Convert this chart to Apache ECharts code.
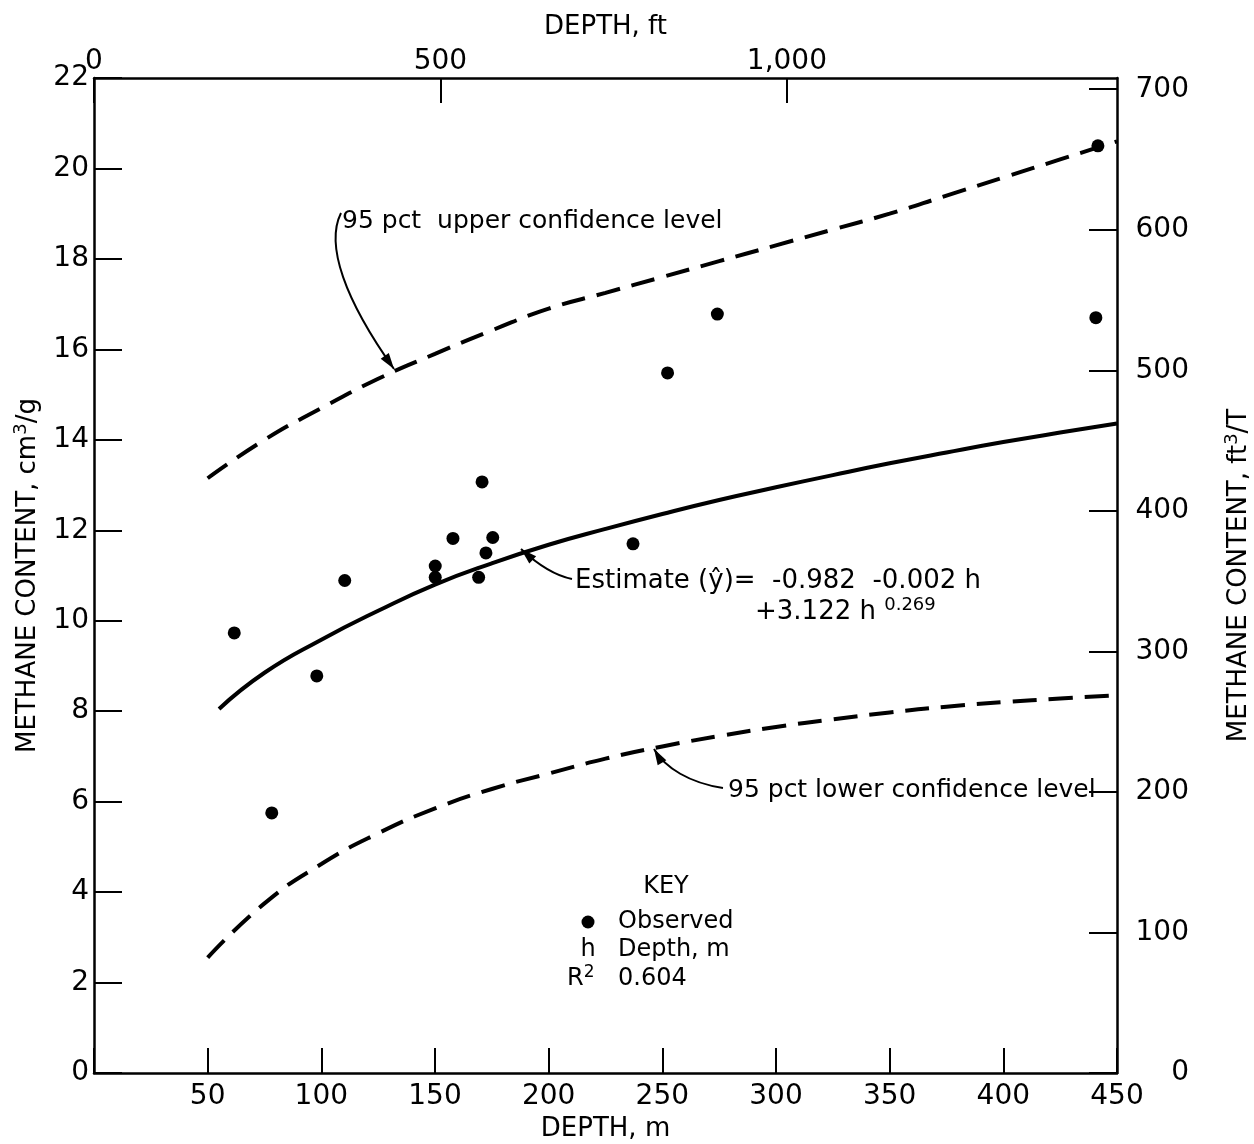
<!DOCTYPE html>
<html>
<head>
<meta charset="utf-8">
<script src="https://cdn.jsdelivr.net/npm/echarts@6.0.0/dist/echarts.min.js"></script>
<style>
  html, body { margin: 0; padding: 0; background: #fff; }
  #chart { width: 1254px; height: 1144px; }
</style>
</head>
<body>
<div id="chart"></div>
<script>
// observed samples (depth m, methane cm3/g)
const obsDepth = [61.7, 78.2, 98.0, 110.3, 150.1, 150.1, 157.9, 170.7, 169.2, 172.4, 175.4, 237.1, 252.3, 274.2, 440.7, 441.6];
const obsMethane = [9.73, 5.75, 8.78, 10.89, 11.21, 10.96, 11.82, 13.07, 10.96, 11.50, 11.84, 11.70, 15.48, 16.78, 16.70, 20.50];

// estimate curve
const estDepth = [55, 75, 100, 125, 150, 175, 200, 225, 250, 275, 300, 325, 350, 375, 400, 425, 450];
const estMethane = [8.05, 8.85, 9.58, 10.22, 10.8, 11.27, 11.68, 12.03, 12.36, 12.67, 12.95, 13.22, 13.48, 13.72, 13.95, 14.16, 14.36];

// 95 pct confidence levels
const upperDepth = [50, 75, 100, 125, 150, 175, 200, 225, 250, 275, 300, 325, 350, 375, 400, 425, 450];
const upperMethane = [13.15, 14.0, 14.7, 15.35, 15.9, 16.42, 16.9, 17.25, 17.6, 17.95, 18.3, 18.65, 19.0, 19.4, 19.8, 20.2, 20.6];
const lowerDepth = [50, 75, 100, 125, 150, 175, 200, 225, 250, 275, 300, 325, 350, 375, 400, 425, 450];
const lowerMethane = [2.55, 3.75, 4.62, 5.3, 5.85, 6.28, 6.62, 6.95, 7.22, 7.45, 7.65, 7.82, 7.97, 8.1, 8.2, 8.28, 8.35];

const FONT = '"DejaVu Sans", "Liberation Sans", sans-serif';
const M_PER_FT = 0.3048;

function pairs(xs, ys) {
  return xs.map((x, i) => [x, ys[i]]);
}

// leader line with a small arrow head at the tip
function arrow(p0, c1, c2, tip) {
  const dx = tip[0] - c2[0], dy = tip[1] - c2[1];
  const l = Math.hypot(dx, dy);
  const ux = dx / l, uy = dy / l;
  const len = 16, w = 5;
  const bx = tip[0] - ux * len, by = tip[1] - uy * len;
  return [
    {
      type: 'bezierCurve',
      shape: { x1: p0[0], y1: p0[1], cpx1: c1[0], cpy1: c1[1], cpx2: c2[0], cpy2: c2[1], x2: tip[0], y2: tip[1] },
      style: { stroke: '#000', lineWidth: 2, fill: 'none' }
    },
    {
      type: 'polygon',
      shape: { points: [tip, [bx - uy * w, by + ux * w], [bx + uy * w, by - ux * w]] },
      style: { fill: '#000' }
    }
  ];
}

function label(x, y, text, size, align) {
  return {
    type: 'text', x: x, y: y,
    style: {
      text: text, font: size + 'px ' + FONT, fill: '#000',
      textAlign: align || 'left', textVerticalAlign: 'middle', verticalAlign: 'middle'
    }
  };
}

function supLabel(x, y, text, size, supSize) {
  return {
    type: 'text', x: x, y: y,
    style: {
      text: text, fill: '#000', textAlign: 'left', textVerticalAlign: 'middle', verticalAlign: 'middle',
      rich: {
        a: { fontSize: size, fontFamily: FONT, fill: '#000', lineHeight: size + 6 },
        s: { fontSize: supSize, fontFamily: FONT, fill: '#000', lineHeight: supSize, verticalAlign: 'top' }
      }
    }
  };
}

const axisLine = { show: true, onZero: false, lineStyle: { color: '#000', width: 2.5 } };
const tickStyle = { color: '#000', width: 2 };
const labelStyle = { color: '#000', fontSize: 28, fontFamily: FONT };
const nameStyle = { color: '#000', fontSize: 26, fontFamily: FONT };
const nameRich = {
  a: { fontSize: 26, fontFamily: FONT, color: '#000', lineHeight: 32 },
  s: { fontSize: 18, fontFamily: FONT, color: '#000', lineHeight: 18, verticalAlign: 'top' }
};

const chart = echarts.init(document.getElementById('chart'));

const option = {
  backgroundColor: '#fff',
  animation: false,
  grid: { left: 94, right: 137, top: 78, bottom: 71, containLabel: false, outerBoundsMode: 'none' },
  xAxis: [
    {
      type: 'value', position: 'bottom', min: 0, max: 450, interval: 50,
      axisLine: axisLine,
      axisTick: { inside: true, length: 25, lineStyle: tickStyle },
      axisLabel: Object.assign({ margin: 10, formatter: v => (v === 0 ? '' : v) }, labelStyle),
      splitLine: { show: false },
      name: 'DEPTH, m', nameLocation: 'middle', nameGap: 42, nameTextStyle: nameStyle
    },
    {
      type: 'value', position: 'top', min: 0, max: 450 / M_PER_FT, interval: 500,
      axisLine: axisLine,
      axisTick: { inside: true, length: 25, lineStyle: tickStyle },
      axisLabel: Object.assign({
        margin: 2, showMaxLabel: false,
        formatter: v => (v % 500 !== 0 ? '' : v === 1000 ? '1,000' : String(v))
      }, labelStyle),
      splitLine: { show: false },
      name: 'DEPTH, ft', nameLocation: 'middle', nameGap: 38, nameTextStyle: nameStyle
    }
  ],
  yAxis: [
    {
      type: 'value', position: 'left', min: 0, max: 22, interval: 2,
      axisLine: axisLine,
      axisTick: { inside: true, length: 28, lineStyle: tickStyle },
      axisLabel: Object.assign({ margin: 5 }, labelStyle),
      splitLine: { show: false },
      name: '{a|METHANE CONTENT, cm}{s|3}{a|/g}', nameLocation: 'middle', nameRotate: 90, nameGap: 50,
      nameTextStyle: { rich: nameRich }
    },
    {
      type: 'value', position: 'right', min: 0, max: 708, interval: 100,
      axisLine: axisLine,
      axisTick: { inside: true, length: 28, lineStyle: tickStyle },
      axisLabel: Object.assign({
        margin: 72, align: 'right', showMaxLabel: false,
        formatter: v => (v % 100 !== 0 ? '' : String(v))
      }, labelStyle),
      splitLine: { show: false },
      name: '{a|METHANE CONTENT, ft}{s|3}{a|/T}', nameLocation: 'middle', nameRotate: 90, nameGap: 106,
      nameTextStyle: { rich: nameRich }
    }
  ],
  series: [
    {
      name: 'Estimate', type: 'line', xAxisIndex: 0, yAxisIndex: 0,
      data: pairs(estDepth, estMethane), smooth: 0.5, showSymbol: false,
      lineStyle: { color: '#000', width: 4 }
    },
    {
      name: 'Upper', type: 'line', xAxisIndex: 0, yAxisIndex: 0,
      data: pairs(upperDepth, upperMethane), smooth: 0.5, showSymbol: false,
      lineStyle: { color: '#000', width: 4, type: [24, 12] }
    },
    {
      name: 'Lower', type: 'line', xAxisIndex: 0, yAxisIndex: 0,
      data: pairs(lowerDepth, lowerMethane), smooth: 0.5, showSymbol: false,
      lineStyle: { color: '#000', width: 4, type: [24, 12] }
    },
    {
      name: 'Observed', type: 'scatter', xAxisIndex: 0, yAxisIndex: 0,
      data: pairs(obsDepth, obsMethane), symbolSize: 13,
      itemStyle: { color: '#000', opacity: 1 }
    }
  ],
  graphic: [
    label(342, 221, '95 pct  upper confidence level', 25),
    ...arrow([341, 213], [325, 245], [345, 300], [394, 369]),

    label(575, 581, 'Estimate (ŷ)=  -0.982  -0.002 h', 26),
    supLabel(755, 612, '{a|+3.122 h }{s|0.269}', 26, 18),
    ...arrow([572, 579], [552, 575], [535, 562], [521, 549]),

    label(728, 790, '95 pct lower confidence level', 25),
    ...arrow([723, 788], [690, 783], [665, 768], [654, 749]),

    label(666, 887, 'KEY', 24, 'center'),
    { type: 'circle', shape: { cx: 588, cy: 922, r: 6.5 }, style: { fill: '#000' } },
    label(618, 922, 'Observed', 24),
    label(588, 950, 'h', 24, 'center'),
    label(618, 950, 'Depth, m', 24),
    supLabel(567, 979, '{a|R}{s|2}', 24, 17),
    label(618, 979, '0.604', 24)
  ]
};

chart.setOption(option);
</script>
</body>
</html>
